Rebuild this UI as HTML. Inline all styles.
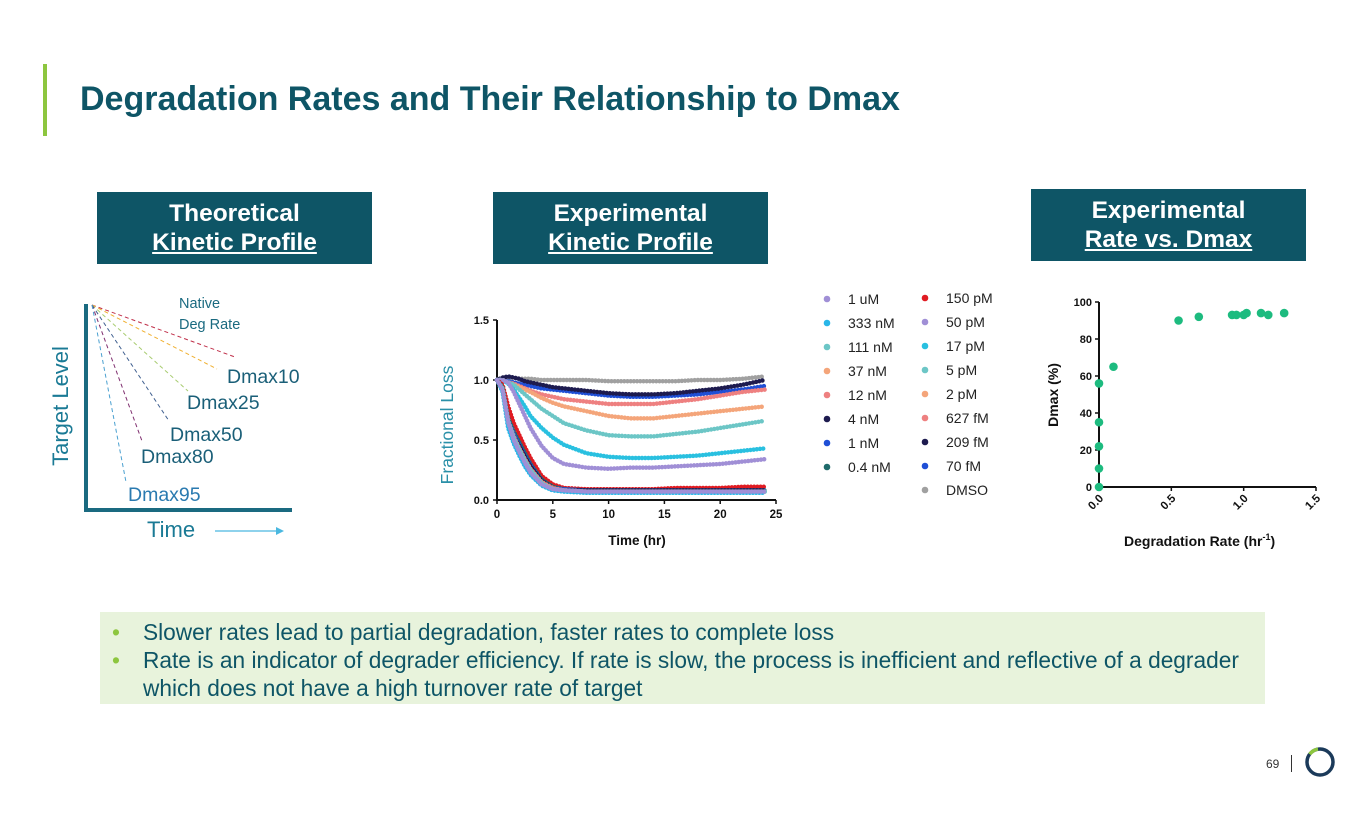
<!DOCTYPE html>
<html><head><meta charset="utf-8"><style>
body{margin:0;background:#fff;font-family:"Liberation Sans",Arial,sans-serif;}
#slide{position:relative;width:1365px;height:829px;overflow:hidden;background:#fff;}
.hdr{position:absolute;background:#0e5566;color:#fff;font-weight:bold;font-size:24.5px;text-align:center;line-height:29px;padding-top:7px;box-sizing:border-box;}
.hdr u{text-decoration:underline;text-underline-offset:2px;}
</style></head><body>
<div id="slide">
<div style="position:absolute;left:43px;top:64px;width:4px;height:72px;background:#8dc63f"></div>
<div style="position:absolute;left:80px;top:80px;font-size:34px;font-weight:bold;color:#0e5566;white-space:nowrap">Degradation Rates and Their Relationship to Dmax</div>

<div class="hdr" style="left:97px;top:192px;width:275px;height:72px">Theoretical<br><u>Kinetic Profile</u></div>
<div class="hdr" style="left:493px;top:192px;width:275px;height:72px">Experimental<br><u>Kinetic Profile</u></div>
<div class="hdr" style="left:1031px;top:189px;width:275px;height:72px">Experimental<br><u>Rate vs. Dmax</u></div>

<svg style="position:absolute;left:0;top:0" width="1365" height="829">
 <g font-family="Liberation Sans,Arial,sans-serif">
 <line x1="86" y1="304" x2="86" y2="512" stroke="#1a6a80" stroke-width="4"/>
 <line x1="84" y1="510" x2="292" y2="510" stroke="#1a6a80" stroke-width="4"/>
 <g stroke-width="1" stroke-dasharray="4,3" fill="none">
  <line x1="92" y1="305" x2="235" y2="357" stroke="#c0304a"/>
  <line x1="92" y1="305" x2="217" y2="369" stroke="#f0b030"/>
  <line x1="92" y1="305" x2="188" y2="391" stroke="#a8cc70"/>
  <line x1="92" y1="305" x2="169" y2="421" stroke="#406090"/>
  <line x1="92" y1="305" x2="142" y2="441" stroke="#803070"/>
  <line x1="92" y1="305" x2="126" y2="482" stroke="#4aa0d0"/>
 </g>
 <text x="179" y="308" font-size="14.5" fill="#1a6a80">Native</text>
 <text x="179" y="329" font-size="14.5" fill="#1a6a80">Deg Rate</text>
 <g font-size="19.5" fill="#1a5f78">
 <text x="227" y="383">Dmax10</text>
 <text x="187" y="409">Dmax25</text>
 <text x="170" y="441">Dmax50</text>
 <text x="141" y="463">Dmax80</text>
 <text x="128" y="501" fill="#2a7ab0">Dmax95</text>
 </g>
 <text x="0" y="0" font-size="22" fill="#1a7a95" transform="translate(68,406) rotate(-90)" text-anchor="middle">Target Level</text>
 <text x="147" y="537" font-size="22" fill="#1a7a95">Time</text>
 <line x1="215" y1="531" x2="278" y2="531" stroke="#4ab8e0" stroke-width="1.2"/>
 <polygon points="284,531 276,527 276,535" fill="#4ab8e0"/>
 </g>
</svg>

<svg id="kin" style="position:absolute;left:0;top:0" width="1365" height="829"></svg>
<svg id="sc" style="position:absolute;left:0;top:0" width="1365" height="829"></svg>

<div style="position:absolute;left:100px;top:612px;width:1165px;height:92px;background:#e8f3dc;color:#0e5566;font-size:22.7px;line-height:28px;box-sizing:border-box;padding:6px 0 0 12px">
 <div style="position:relative;padding-left:31px"><span style="position:absolute;left:0;color:#8dc63f">•</span>Slower rates lead to partial degradation, faster rates to complete loss</div>
 <div style="position:relative;padding-left:31px"><span style="position:absolute;left:0;color:#8dc63f">•</span>Rate is an indicator of degrader efficiency. If rate is slow, the process is inefficient and reflective of a degrader<br>which does not have a high turnover rate of target</div>
</div>

<div style="position:absolute;left:1266px;top:757px;font-size:12px;color:#333">69</div>
<div style="position:absolute;left:1291px;top:755px;width:1px;height:17px;background:#333"></div>
<svg style="position:absolute;left:1302px;top:745px" width="36" height="34">
 <circle cx="18" cy="17" r="13" fill="none" stroke="#1b3a5a" stroke-width="3.5"/>
 <path d="M7.7 9.2 A13 13 0 0 1 16 4.1" fill="none" stroke="#8dc63f" stroke-width="3.5"/>
</svg>

<script>
// ---- Kinetic chart data ----
const times = [0,0.5,1,1.5,2,2.5,3,4,5,6,8,10,12,14,16,18,20,22,24];
const seriesNames = ["1 uM","333 nM","111 nM","37 nM","12 nM","4 nM","1 nM","0.4 nM","150 pM","50 pM","17 pM","5 pM","2 pM","627 fM","209 fM","70 fM","DMSO"];
const seriesColors = ["#a08fd6","#29b6e8","#6cc6c6","#f4a57a","#ee8080","#1d1b4f","#1f4fd6","#1f6b6b","#e01b22","#a08fd6","#29c0e0","#6cc6c6","#f4a57a","#ee8080","#1d1b4f","#1f4fd6","#a0a0a0"];
const v1uM   = [1.0,0.92,0.65,0.5,0.4,0.31,0.23,0.13,0.09,0.08,0.07,0.07,0.07,0.07,0.07,0.07,0.07,0.07,0.07];
const v333nM = [1.0,0.9,0.6,0.47,0.37,0.28,0.21,0.12,0.08,0.07,0.06,0.06,0.06,0.06,0.06,0.06,0.06,0.06,0.06];
const v111nM = [1.0,0.93,0.66,0.52,0.42,0.33,0.25,0.14,0.09,0.08,0.07,0.07,0.07,0.07,0.07,0.07,0.07,0.07,0.07];
const v37nM  = [1.0,0.92,0.64,0.5,0.4,0.31,0.24,0.14,0.09,0.08,0.07,0.07,0.07,0.07,0.07,0.07,0.07,0.07,0.07];
const v12nM  = [1.0,0.92,0.66,0.53,0.43,0.34,0.26,0.15,0.1,0.08,0.07,0.07,0.07,0.07,0.07,0.07,0.07,0.07,0.07];
const v4nM   = [1.0,0.92,0.64,0.53,0.45,0.36,0.28,0.16,0.1,0.08,0.08,0.08,0.08,0.08,0.08,0.08,0.08,0.08,0.08];
const v1nM   = [1.0,0.92,0.66,0.55,0.46,0.37,0.29,0.16,0.1,0.09,0.08,0.08,0.08,0.08,0.08,0.08,0.08,0.08,0.08];
const v04nM  = [1.0,0.94,0.68,0.57,0.48,0.39,0.3,0.17,0.11,0.09,0.08,0.08,0.08,0.08,0.08,0.08,0.08,0.08,0.08];
const v150pM = [1.0,0.96,0.78,0.64,0.54,0.44,0.35,0.2,0.13,0.1,0.09,0.09,0.09,0.09,0.1,0.1,0.1,0.11,0.11];
const v50pM  = [1.0,1.0,0.98,0.9,0.8,0.7,0.6,0.45,0.35,0.3,0.27,0.26,0.27,0.27,0.28,0.29,0.3,0.32,0.34];
const v17pM  = [1.0,1.0,0.97,0.92,0.85,0.78,0.7,0.6,0.52,0.46,0.39,0.36,0.35,0.35,0.36,0.37,0.39,0.41,0.43];
const v5pM   = [1.0,1.0,0.98,0.96,0.92,0.88,0.84,0.76,0.7,0.64,0.58,0.54,0.53,0.53,0.55,0.57,0.6,0.63,0.66];
const v2pM   = [1.0,1.0,0.98,0.96,0.94,0.92,0.9,0.85,0.81,0.78,0.74,0.7,0.68,0.68,0.7,0.72,0.74,0.76,0.78];
const v627fM = [1.0,1.0,0.98,0.97,0.95,0.93,0.91,0.88,0.86,0.84,0.82,0.8,0.8,0.8,0.82,0.84,0.87,0.9,0.92];
const v209fM = [1.0,1.02,1.03,1.02,1.01,0.99,0.98,0.96,0.94,0.93,0.91,0.89,0.88,0.88,0.89,0.91,0.93,0.96,1.0];
const v70fM  = [1.0,1.0,0.99,0.98,0.97,0.96,0.95,0.93,0.92,0.91,0.89,0.87,0.86,0.86,0.87,0.88,0.9,0.92,0.95];
const vDMSO  = [1.0,1.02,1.02,1.02,1.01,1.01,1.01,1.0,1.0,1.0,1.0,0.99,0.99,0.99,0.99,1.0,1.0,1.01,1.03];
const seriesValues = [v1uM,v333nM,v111nM,v37nM,v12nM,v4nM,v1nM,v04nM,v150pM,v50pM,v17pM,v5pM,v2pM,v627fM,v209fM,v70fM,vDMSO];
const xTicks = [0,5,10,15,20,25];
const yTicks = [0.0,0.5,1.0,1.5];
const yTickLabels = ["0.0","0.5","1.0","1.5"];

// ---- Scatter data ----
const rates = [0,0,0,0,0,0.1,0.55,0.69,0.92,0.95,1.0,1.02,1.12,1.17,1.28];
const dmaxVals = [0,10,22,35,56,65,90,92,93,93,93,94,94,93,94];
const sxTicks = [0,0.5,1.0,1.5];
const sxTickLabels = ["0.0","0.5","1.0","1.5"];
const syTicks = [0,20,40,60,80,100];

const NS="http://www.w3.org/2000/svg";
function mk(parent,tag,attrs,txt){const e=document.createElementNS(NS,tag);for(const k in attrs)e.setAttribute(k,attrs[k]);if(txt!==undefined)e.textContent=txt;parent.appendChild(e);return e;}

const kx=t=>497+t*(776-497)/25;
const ky=v=>500-v*(180/1.5);
const kin=document.getElementById('kin');
const F="Liberation Sans,Arial,sans-serif";
let ax=mk(kin,'line',{x1:kx(0),y1:ky(1.5),x2:kx(0),y2:ky(0)+1,stroke:'#111','stroke-width':2});


ax=mk(kin,'line',{x1:kx(0)-1,y1:ky(0),x2:kx(25),y2:ky(0),stroke:'#111','stroke-width':2});


xTicks.forEach(t=>{
  mk(kin,'line',{x1:kx(t),y1:ky(0),x2:kx(t),y2:ky(0)+4,stroke:'#111','stroke-width':1.5});
  const l=mk(kin,'text',{x:kx(t),y:ky(0)+18,'text-anchor':'middle','font-size':11.5,'font-weight':'bold','font-family':F,fill:'#111'},String(t));
  
  
});
yTicks.forEach((v,i)=>{
  mk(kin,'line',{x1:kx(0)-4,y1:ky(v),x2:kx(0),y2:ky(v),stroke:'#111','stroke-width':1.5});
  const l=mk(kin,'text',{x:kx(0)-8,y:ky(v)+4,'text-anchor':'end','font-size':11,'font-weight':'bold','font-family':F,fill:'#111'},yTickLabels[i]);
  
  
});
let tl=mk(kin,'text',{x:637,y:545,'text-anchor':'middle','font-size':13.5,'font-weight':'bold','font-family':F,fill:'#111'},'Time (hr)');


tl=mk(kin,'text',{x:0,y:0,'text-anchor':'middle','font-size':17.5,'font-family':F,fill:'#2a90a8',transform:'translate(453,425) rotate(-90)'},'Fractional Loss');


for(let s=seriesValues.length-1;s>=0;s--){
  const pts=times.map((t,i)=>kx(t)+','+ky(seriesValues[s][i])).join(' ');
  const p=mk(kin,'polyline',{points:pts,fill:'none',stroke:seriesColors[s],'stroke-width':4.5,'stroke-linecap':'round','stroke-linejoin':'round','stroke-dasharray':'0 3.2'});
  
  
}
seriesNames.forEach((n,i)=>{
  const col=i<8?0:1, row=i<8?i:i-8;
  const dx=col?925:827, y=col?298+row*24:299+row*24;
  const c=mk(kin,'circle',{cx:dx,cy:y,r:3.3,fill:seriesColors[i]});
  
  
  const t=mk(kin,'text',{x:dx+21,y:y+5,'font-size':14,'font-family':F,fill:'#222'},n);
  
  
});

const sc=document.getElementById('sc');
const sx=r=>1099+r*(1316-1099)/1.5;
const sy=v=>487-v*(185/100);
ax=mk(sc,'line',{x1:sx(0),y1:sy(100),x2:sx(0),y2:sy(0)+1,stroke:'#111','stroke-width':2});


ax=mk(sc,'line',{x1:sx(0)-1,y1:sy(0),x2:sx(1.5),y2:sy(0),stroke:'#111','stroke-width':2});


syTicks.forEach(v=>{
  mk(sc,'line',{x1:sx(0)-4,y1:sy(v),x2:sx(0),y2:sy(v),stroke:'#111','stroke-width':1.5});
  const l=mk(sc,'text',{x:sx(0)-7,y:sy(v)+4,'text-anchor':'end','font-size':11,'font-weight':'bold','font-family':F,fill:'#111'},String(v));
  
  
});
sxTicks.forEach((r,i)=>{
  mk(sc,'line',{x1:sx(r),y1:sy(0),x2:sx(r),y2:sy(0)+4,stroke:'#111','stroke-width':1.5});
  const l=mk(sc,'text',{x:0,y:0,'text-anchor':'end','font-size':11.5,'font-weight':'bold','font-family':F,fill:'#111',transform:'translate('+(sx(r)+5)+','+(sy(0)+12)+') rotate(-45)'},sxTickLabels[i]);
  
  
});
tl=mk(sc,'text',{x:1124,y:546,'font-size':14,'font-weight':'bold','font-family':F,fill:'#111'});


mk(tl,'tspan',{},'Degradation Rate (hr');
mk(tl,'tspan',{'font-size':9,dy:-6},'-1');
mk(tl,'tspan',{dy:6},')');
tl=mk(sc,'text',{x:0,y:0,'text-anchor':'middle','font-size':14,'font-weight':'bold','font-family':F,fill:'#111',transform:'translate(1058,395) rotate(-90)'},'Dmax (%)');


rates.forEach((r,i)=>{
  const c=mk(sc,'circle',{cx:sx(r),cy:sy(dmaxVals[i]),r:4.3,fill:'#1dbb7f'});
  
  
});
</script>
</div>
</body></html>
